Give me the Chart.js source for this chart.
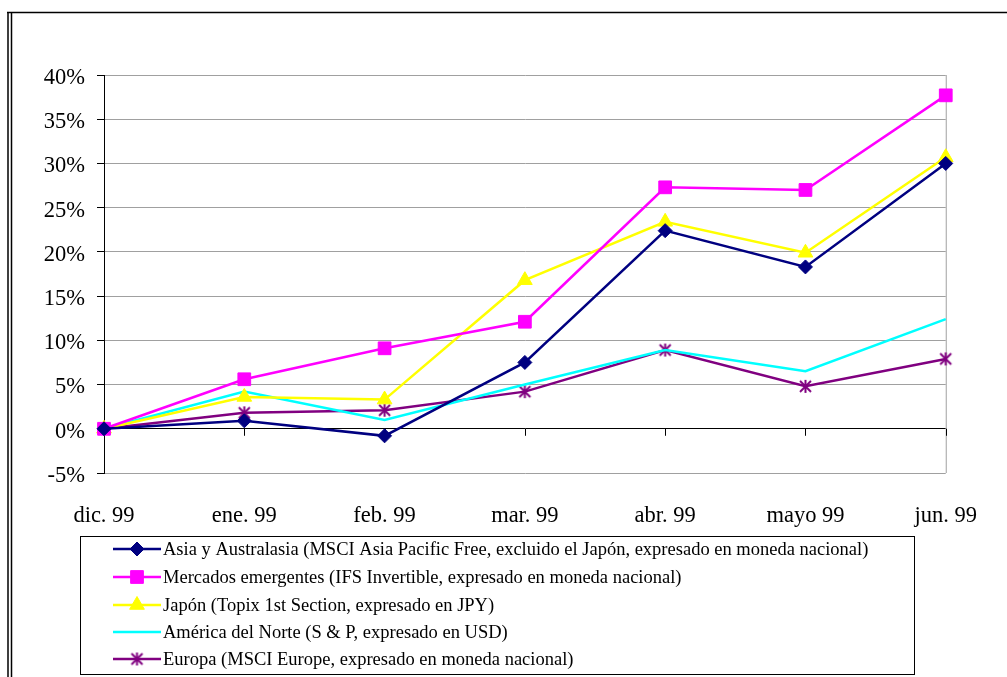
<!DOCTYPE html>
<html>
<head>
<meta charset="utf-8">
<script src="https://cdn.jsdelivr.net/npm/chart.js@4"></script>
<style>
  body { margin: 0; background: #fff; }
</style>
</head>
<body>
<canvas id="grafico" width="1007" height="677"></canvas>
<script>
// Datos (variación en %)
const meses = ['dic. 99', 'ene. 99', 'feb. 99', 'mar. 99', 'abr. 99', 'mayo 99', 'jun. 99'];
const asiaAustralasia = [0, 0.9, -0.8, 7.5, 22.4, 18.3, 30.0];
const mercadosEmergentes = [0, 5.6, 9.1, 12.1, 27.3, 27.0, 37.7];
const japon = [0, 3.6, 3.3, 16.8, 23.4, 19.9, 30.7];
const americaNorte = [0, 4.2, 1.0, 5.0, 8.9, 6.5, 12.4];
const europa = [0, 1.8, 2.1, 4.2, 8.9, 4.8, 7.9];

const nombres = [
    'Asia y Australasia (MSCI Asia Pacific Free, excluido el Japón, expresado en moneda nacional)',
    'Mercados emergentes (IFS Invertible, expresado en moneda nacional)',
    'Japón (Topix 1st Section, expresado en JPY)',
    'América del Norte (S & P, expresado en USD)',
    'Europa (MSCI Europe, expresado en moneda nacional)'
];

const fuente = '"Liberation Serif", "Times New Roman", serif';

// asterisco estilo Excel (X + línea vertical)
function crearAsterisco(color) {
    const c = document.createElement('canvas');
    c.width = 15; c.height = 15;
    const g = c.getContext('2d');
    g.strokeStyle = color;
    g.lineWidth = 2;
    g.beginPath();
    g.moveTo(2, 2); g.lineTo(13, 13);
    g.moveTo(13, 2); g.lineTo(2, 13);
    g.moveTo(7.5, 1); g.lineTo(7.5, 14);
    g.stroke();
    return c;
}
const asterisco = crearAsterisco('#800080');

const series = [
    { label: nombres[0], data: asiaAustralasia, color: '#000080', estilo: 'rectRot', radio: 7 },
    { label: nombres[1], data: mercadosEmergentes, color: '#FF00FF', estilo: 'rect', radio: 9 },
    { label: nombres[2], data: japon, color: '#FFFF00', estilo: 'triangle', radio: 8.5 },
    { label: nombres[3], data: americaNorte, color: '#00FFFF', estilo: 'circle', radio: 0 },
    { label: nombres[4], data: europa, color: '#800080', estilo: asterisco, radio: 7 }
];

const marcoPlugin = {
    id: 'marco',
    beforeDatasetsDraw(chart) {
        const { ctx, chartArea, scales } = chart;
        ctx.save();
        // borde derecho del área de trazado
        ctx.strokeStyle = '#a0a0a0';
        ctx.lineWidth = 1;
        ctx.beginPath();
        ctx.moveTo(chartArea.right + 0.5, chartArea.top);
        ctx.lineTo(chartArea.right + 0.5, chartArea.bottom);
        ctx.stroke();
        // marcas del eje de categorías sobre la línea del 0%
        const y0 = scales.y.getPixelForValue(0);
        ctx.strokeStyle = '#000';
        ctx.beginPath();
        meses.forEach((m, i) => {
            const x = Math.round(scales.x.getPixelForValue(i)) + 0.5;
            ctx.moveTo(x, y0);
            ctx.lineTo(x, y0 + 7);
        });
        ctx.stroke();
        ctx.restore();
    },
    afterDraw(chart) {
        const ctx = chart.ctx;
        ctx.save();
        // marco exterior
        ctx.strokeStyle = '#000';
        ctx.lineWidth = 1.5;
        ctx.beginPath();
        ctx.moveTo(7, 12.5); ctx.lineTo(1007, 12.5);
        ctx.moveTo(8, 12); ctx.lineTo(8, 677);
        ctx.moveTo(11.5, 13); ctx.lineTo(11.5, 677);
        ctx.stroke();

        // leyenda
        ctx.lineWidth = 1;
        ctx.strokeStyle = '#000';
        ctx.strokeRect(80.5, 536.5, 834, 138);
        const filas = [549, 577, 605, 632, 659];
        ctx.font = '18.5px ' + fuente;
        ctx.textBaseline = 'middle';
        series.forEach((s, i) => {
            const y = filas[i];
            ctx.strokeStyle = s.color;
            ctx.fillStyle = s.color;
            ctx.lineWidth = 2.5;
            ctx.beginPath();
            ctx.moveTo(113, y); ctx.lineTo(161, y);
            ctx.stroke();
            if (s.radio > 0) {
                ctx.lineWidth = 1;
                Chart.helpers.drawPoint(ctx, {
                    pointStyle: s.estilo, radius: s.radio, rotation: 0,
                    borderWidth: 1
                }, 137, y);
            }
            ctx.fillStyle = '#000';
            ctx.fillText(s.label, 163, y + 1);
        });
        ctx.restore();
    }
};

const ctx = document.getElementById('grafico').getContext('2d');
new Chart(ctx, {
    type: 'line',
    data: {
        labels: meses,
        datasets: series.map(s => ({
            label: s.label,
            data: s.data,
            borderColor: s.color,
            backgroundColor: s.color,
            borderWidth: 2.5,
            tension: 0,
            pointStyle: s.estilo,
            pointRadius: s.radio,
            pointHoverRadius: s.radio,
            pointBorderWidth: 1,
            pointBorderColor: s.color,
            pointBackgroundColor: s.color,
            fill: false
        }))
    },
    options: {
        responsive: false,
        animation: false,
        events: [],
        layout: { padding: { left: 0, top: 75, right: 60, bottom: 0 } },
        plugins: {
            legend: { display: false },
            tooltip: { enabled: false }
        },
        scales: {
            x: {
                offset: false,
                grid: { display: false, drawTicks: false },
                border: { display: false },
                ticks: {
                    color: '#000',
                    font: { family: fuente, size: 22.5 },
                    padding: 30,
                    maxRotation: 0,
                    autoSkip: false
                },
                afterFit(scale) { scale.height = 204; }
            },
            y: {
                min: -5,
                max: 40,
                grid: {
                    color: c => c.tick && c.tick.value === 0 ? '#000' : '#a0a0a0',
                    tickColor: '#000',
                    tickLength: 7,
                    lineWidth: 1
                },
                border: { color: '#000', width: 1 },
                ticks: {
                    stepSize: 5,
                    color: '#000',
                    font: { family: fuente, size: 22.5 },
                    padding: 12,
                    labelOffset: 3,
                    callback: v => v + '%'
                },
                afterFit(scale) { scale.width = 104; }
            }
        }
    },
    plugins: [marcoPlugin]
});
</script>
</body>
</html>
